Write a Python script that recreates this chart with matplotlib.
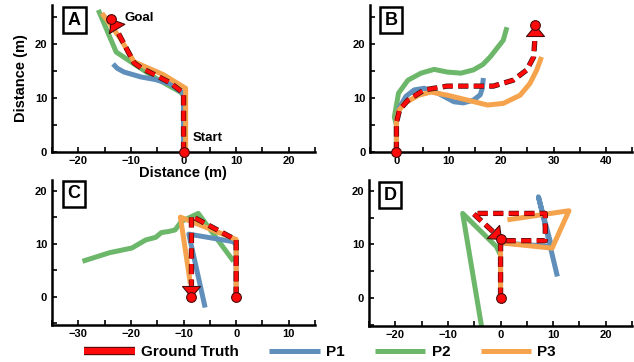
import matplotlib
matplotlib.use("Agg")
import matplotlib.pyplot as plt
import matplotlib.patheffects as pe
import numpy as np
from matplotlib.lines import Line2D
from matplotlib.path import Path
from matplotlib.ticker import MultipleLocator

plt.rcParams['font.family'] = ['Liberation Sans', 'DejaVu Sans']
plt.rcParams['font.weight'] = 'bold'

C_P1 = '#5f8fba'
C_P2 = '#6cb76a'
C_P3 = '#f5a34d'
C_GT = '#ff0a0a'
C_EDGE = '#4a0a0a'

# ---- panel A ----
a_gt_x = [0, 0, -2.5, -8.1, -9.4, -12.5, -13.8]
a_gt_y = [0, 10.9, 12.8, 15.6, 16.5, 22.2, 24.6]
a_p1_x = [0, 0, -2.5, -5.3, -8.1, -11.3, -12.6, -13.4]
a_p1_y = [0, 10.8, 12.6, 13.4, 13.9, 14.8, 15.5, 16.3]
a_p2_x = [0, 0, -0.6, -5.0, -9.4, -12.8, -16.2]
a_p2_y = [0, 10.5, 11.1, 13.5, 16.3, 18.5, 26.3]
a_p3_x = [0.4, 0.4, -3.8, -9.4, -12.0, -15.5]
a_p3_y = [0, 11.8, 14.3, 16.7, 21.0, 25.7]
a_goal = (-13.8, 24.6)
a_head = -59      # direction of the flag triangle, degrees

# ---- panel B ----
b_gt_x = [0, 0, 0.6, 2.2, 5.3, 9.7, 14, 18.5, 22.3, 24.9, 26.2, 26.4, 26.4]
b_gt_y = [0, 5.4, 7.8, 9.6, 11.5, 12.2, 12.2, 12.2, 13.3, 15.2, 17.6, 20.4, 23.5]
b_p1_x = [0, 0, 0.6, 1.8, 3.4, 5.3, 7.9, 11.0, 12.8, 14.7, 16.0, 16.4, 16.6]
b_p1_y = [0, 6, 8.3, 10.3, 11.5, 11.8, 10.9, 9.3, 9.1, 9.6, 10.6, 11.8, 13.7]
b_p2_x = [0, 0, -0.4, 0.4, 2.2, 4.7, 7.2, 9.7, 12.3, 14.7, 16.5, 17.9, 20.4, 21.1]
b_p2_y = [0, 5, 6.5, 10.9, 13.3, 14.6, 15.3, 14.8, 14.6, 15.2, 16.2, 17.6, 20.7, 23.1]
b_p3_x = [0, 0, 0.4, 1.5, 4.2, 6.6, 9.8, 13.6, 17.4, 20.4, 23.6, 25.5, 26.8, 27.7]
b_p3_y = [0, 5.9, 7.6, 9.0, 10.5, 11.1, 10.5, 9.6, 8.7, 9.0, 10.5, 12.7, 15.2, 17.6]
b_goal = (26.4, 23.5)
b_head = -90

# ---- panel C ----
c_gt_x = [0, 0, -8.5, -8.5]
c_gt_y = [0, 10.7, 15.2, 0]
c_p1_x = [0, 0, -0.6, -9.0, -5.9]
c_p1_y = [0, 9.8, 10.4, 11.8, -2.0]
c_p2_x = [-0.5, -7.2, -10.4, -11.6, -12.8, -14.2, -15.3, -17.2, -19.8, -24.1, -29.2]
c_p2_y = [6.7, 15.7, 14.2, 12.6, 12.3, 12.1, 11.2, 10.7, 9.2, 8.3, 6.7]
c_p3_x = [0, 0, -10.6, -8.7]
c_p3_y = [0, 10.8, 15.0, 2.5]
c_goal = (-8.5, 0)
c_head = 90

# ---- panel D ----
d_gt_x = [0, 0, 8.5, 8.5, -5.2, 0]
d_gt_y = [0, 10.7, 10.7, 15.8, 15.8, 11.1]
d_p1_x = [0, 0, 9.7, 7.2, 10.8]
d_p1_y = [0, 10.3, 9.6, 18.9, 4.0]
d_p2_x = [0, 0, -0.8, -7.2, -3.5]
d_p2_y = [0, 8, 9.6, 15.8, -6]
d_p3_x = [0, 0, 9.8, 13.0, 1.3]
d_p3_y = [0, 10.3, 9.3, 16.3, 14.6]
d_goal = (0, 11.1)
d_head = 137

panels = [
    ('A', [0.082, 0.580, 0.415, 0.406], (-25, 25), (0, 27.2), range(-20, 21, 10), (0.0856, 0.898),
     a_gt_x, a_gt_y, a_p1_x, a_p1_y, a_p2_x, a_p2_y, a_p3_x, a_p3_y, a_goal, a_head),
    ('B', [0.584, 0.580, 0.413, 0.406], (-5, 45), (0, 27.2), range(0, 41, 10), (0.080, 0.898),
     b_gt_x, b_gt_y, b_p1_x, b_p1_y, b_p2_x, b_p2_y, b_p3_x, b_p3_y, b_goal, b_head),
    ('C', [0.082, 0.102, 0.415, 0.401], (-35, 15), (-5.3, 22), range(-30, 11, 10), (0.084, 0.903),
     c_gt_x, c_gt_y, c_p1_x, c_p1_y, c_p2_x, c_p2_y, c_p3_x, c_p3_y, c_goal, c_head),
    ('D', [0.582, 0.099, 0.415, 0.403], (-25, 25), (-5.3, 22), range(-20, 21, 10), (0.080, 0.897),
     d_gt_x, d_gt_y, d_p1_x, d_p1_y, d_p2_x, d_p2_y, d_p3_x, d_p3_y, d_goal, d_head),
]


def flag_marker(angle):
    # flat triangle with its apex on the goal point, opening along `angle`
    # shape in pixels: apex at origin, base 11 px away, 18 px wide
    pts = np.array([[0.0, 0.0], [11.0, 9.0], [11.0, -9.0], [0.0, 0.0]])
    t = np.deg2rad(angle)
    rot = np.array([[np.cos(t), -np.sin(t)], [np.sin(t), np.cos(t)]])
    pts = pts @ rot.T
    rescale = np.max(np.abs(pts))
    ms = 2 * rescale * 0.72          # px -> pt at 100 dpi
    return Path(pts, closed=True), ms


fig = plt.figure(figsize=(6.34, 3.62), dpi=100)

gt_fx = [pe.Stroke(linewidth=3.8, foreground=C_EDGE), pe.Normal()]

for (lab, rect, xl, yl, xt, boxpos, gx, gy, x1, y1, x2, y2, x3, y3, goal, head) in panels:
    ax = fig.add_axes(rect)
    lw = 3.6
    ax.plot(x2, y2, color=C_P2, lw=lw, solid_joinstyle='round', solid_capstyle='butt', zorder=2)
    ax.plot(x1, y1, color=C_P1, lw=lw, solid_joinstyle='round', solid_capstyle='butt', zorder=3)
    ax.plot(x3, y3, color=C_P3, lw=lw, solid_joinstyle='round', solid_capstyle='butt', zorder=3)
    ax.plot(gx, gy, color=C_GT, lw=2.8, dashes=(2.6, 1.4), path_effects=gt_fx, zorder=4)
    # start / goal markers
    ax.plot(gx[0], gy[0], 'o', ms=7, color=C_GT, mec=C_EDGE, mew=0.8, zorder=6, clip_on=False)
    fpath, fms = flag_marker(head)
    ax.plot(goal[0], goal[1], marker=fpath, ms=fms, color=C_GT, mec=C_EDGE,
            mew=0.8, zorder=5, clip_on=False)
    ax.plot(goal[0], goal[1], 'o', ms=7, color=C_GT, mec=C_EDGE, mew=0.8, zorder=6, clip_on=False)

    ax.set_xlim(*xl)
    ax.set_ylim(*yl)
    ax.set_xticks(list(xt))
    ax.set_yticks([0, 10, 20])
    ax.xaxis.set_minor_locator(MultipleLocator(5))
    ax.yaxis.set_minor_locator(MultipleLocator(5))
    for s in ['top', 'right']:
        ax.spines[s].set_visible(False)
    for s in ['left', 'bottom']:
        ax.spines[s].set_linewidth(1.8)
    ax.tick_params(which='both', direction='in', width=1.2, length=3.5, labelsize=8)
    ax.tick_params(axis='x', pad=3)
    ax.tick_params(axis='y', pad=3.5)
    for t in ax.get_xticklabels() + ax.get_yticklabels():
        t.set_fontweight('bold')
    ax.text(boxpos[0], boxpos[1], lab, transform=ax.transAxes, ha='center', va='center',
            fontsize=13, fontweight='bold',
            bbox=dict(boxstyle='square,pad=0.25', fc='white', ec='black', lw=1.8))
    if lab == 'A':
        ax.text(-11.2, 24.8, 'Goal', fontsize=9.5, fontweight='bold', va='center', ha='left')
        ax.text(1.8, 2.6, 'Start', fontsize=9.5, fontweight='bold', va='center', ha='left')

fig.text(183 / 634, 1 - 173 / 362, 'Distance (m)', ha='center', va='center',
         fontsize=10.5, fontweight='bold')
fig.text(21 / 634, 1 - 78 / 362, 'Distance (m)', ha='center', va='center',
         rotation=90, fontsize=10.5, fontweight='bold')

handles = [
    Line2D([], [], color=C_GT, lw=4.5, solid_capstyle='butt',
           path_effects=[pe.Stroke(linewidth=6, foreground=C_EDGE), pe.Normal()]),
    Line2D([], [], color=C_P1, lw=3.6, solid_capstyle='butt'),
    Line2D([], [], color=C_P2, lw=3.6, solid_capstyle='butt'),
    Line2D([], [], color=C_P3, lw=3.6, solid_capstyle='butt'),
]
labels = ['Ground Truth', 'P1', 'P2', 'P3']
fig.legend(handles, labels, loc='center', bbox_to_anchor=(0.505, 1 - 352 / 362), ncol=4,
           frameon=False, prop={'size': 11, 'weight': 'bold'}, handlelength=3.3,
           handletextpad=0.4, columnspacing=2.0, borderaxespad=0, borderpad=0)

fig.savefig('out.png', dpi=100)
